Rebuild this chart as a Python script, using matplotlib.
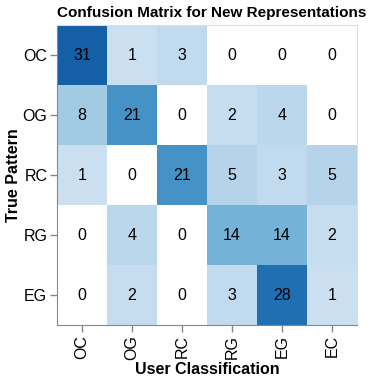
import numpy as np
import matplotlib.pyplot as plt
from matplotlib.colors import LinearSegmentedColormap, Normalize

plt.rcParams['font.family'] = ['Liberation Sans', 'DejaVu Sans']

# data
user_classes = ['OC', 'OG', 'RC', 'RG', 'EG', 'EC']
true_patterns = ['OC', 'OG', 'RC', 'RG', 'EG']
counts = [
    [31, 1, 3, 0, 0, 0],
    [8, 21, 0, 2, 4, 0],
    [1, 0, 21, 5, 3, 5],
    [0, 4, 0, 14, 14, 2],
    [0, 2, 0, 3, 28, 1],
]

# vega "blues" scheme
blues = ['#cfe1f2', '#bed8ec', '#a8cee5', '#8fc1de', '#74b2d7', '#5ba3cf',
         '#4592c6', '#3181bd', '#206fb2', '#125ca4', '#0a4a90']
cmap = LinearSegmentedColormap.from_list('vblues', blues)
norm = Normalize(vmin=0, vmax=35)

fig = plt.figure(figsize=(3.73, 3.79), dpi=100)
ax = fig.add_axes([57 / 373, (379 - 325) / 379, 300 / 373, 300 / 379])

m = np.ma.masked_equal(np.array(counts, dtype=float), 0)
ax.pcolormesh(np.arange(len(user_classes) + 1) - 0.5,
              np.arange(len(true_patterns) + 1) - 0.5,
              m, cmap=cmap, norm=norm)

for i, row in enumerate(counts):
    for j, v in enumerate(row):
        ax.text(j, i, str(v), ha='center', va='center', fontsize=11.5, color='black')

ax.set_xlim(-0.5, len(user_classes) - 0.5)
ax.set_ylim(len(true_patterns) - 0.5, -0.5)
ax.set_xticks(range(len(user_classes)))
ax.set_xticklabels(user_classes, rotation=90, fontsize=11.5)
ax.set_yticks(range(len(true_patterns)))
ax.set_yticklabels(true_patterns, fontsize=11.5)
ax.tick_params(length=5, width=1, color='#888888', pad=2)

for s in ['left', 'bottom']:
    ax.spines[s].set_color('#888888')
for s in ['top', 'right']:
    ax.spines[s].set_color('#dddddd')

ax.set_xlabel('User Classification', fontsize=11.5, fontweight='bold', labelpad=2)
ax.set_ylabel('True Pattern', fontsize=11.5, fontweight='bold', labelpad=1)
fig.text(212 / 373, 1 - 13 / 379, 'Confusion Matrix for New Representations',
         ha='center', va='center', fontsize=11, fontweight='bold')

fig.savefig('out.png', dpi=100)
